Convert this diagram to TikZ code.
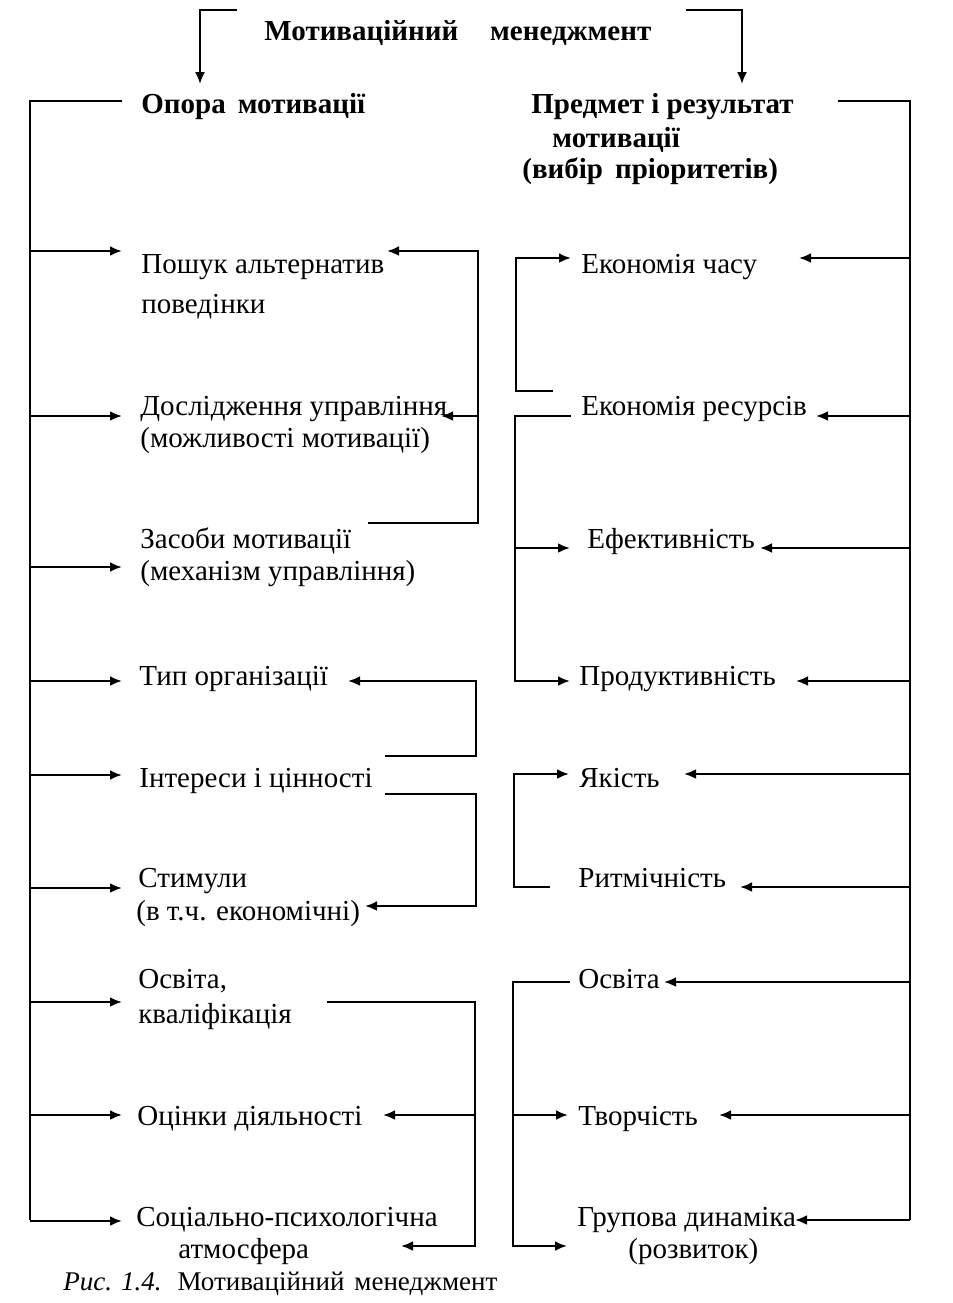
\documentclass[tikz,border=0pt]{standalone}
\usepackage{fontspec}
\setmainfont{Liberation Serif}
\usetikzlibrary{arrows.meta,positioning}
\tikzset{>={Latex[length=6pt,width=5pt]}}
\tikzset{
  item/.style={anchor=base west, inner sep=0pt, font=\fontsize{14.5}{17}\selectfont},
  head/.style={item, font=\fontsize{14.5}{17}\selectfont\bfseries},
  bus/.style={line width=1pt},
  feed/.style={->, line width=1.2pt},
}

\begin{document}
\begin{tikzpicture}[x=0.5pt,y=-0.5pt]
\useasboundingbox (0,0) rectangle (953,1303);
% headings
\node[head] (mm) at (264,40) {Мотиваційний\hspace{16pt}менеджмент};
\node[head] (opora) at (141,113) {Опора\hspace{6pt}мотивації};
\node[head] (pr1) at (531,113) {Предмет і результат};
\node[head] (pr2) at (552,147) {мотивації};
\node[head] (pr3) at (522,178) {(вибір\hspace{6pt}пріоритетів)};

% left column
\node[item] (l1a) at (141,273) {Пошук альтернатив};
\node[item] (l1b) at (141,313) {поведінки};
\node[item] (l2a) at (140,415) {Дослідження управління};
\node[item] (l2b) at (140,447) {(можливості мотивації)};
\node[item] (l3a) at (140,548) {Засоби мотивації};
\node[item] (l3b) at (140,580) {(механізм управління)};
\node[item] (l4) at (139,685) {Тип організації};
\node[item] (l5) at (139,787) {Інтереси і цінності};
\node[item] (l6a) at (138,887) {Стимули};
\node[item] (l6b) at (136,920) {(в т.ч. економічні)};
\node[item] (l7a) at (138,988) {Освіта,};
\node[item] (l7b) at (138,1023) {кваліфікація};
\node[item] (l8) at (137,1125) {Оцінки діяльності};
\node[item] (l9a) at (136,1226) {Соціально-психологічна};
\node[item] (l9b) at (178,1258) {атмосфера};

% right column
\node[item] (r1) at (581,273) {Економія часу};
\node[item] (r2) at (581,415) {Економія ресурсів};
\node[item] (r3) at (587,548) {Ефективність};
\node[item] (r4) at (579,685) {Продуктивність};
\node[item] (r5) at (579,787) {Якість};
\node[item] (r6) at (578,887) {Ритмічність};
\node[item] (r7) at (578,988) {Освіта};
\node[item] (r8) at (578,1125) {Творчість};
\node[item] (r9a) at (577,1226) {Групова динаміка};
\node[item] (r9b) at (628,1258) {(розвиток)};

% caption
\node[item, font=\fontsize{13.5}{16}\selectfont] (cap) at (63,1290)
  {\textit{Рис. 1.4.}\hspace{8pt}Мотиваційний\hspace{5pt}менеджмент};

% top brackets
\coordinate (tl) at (237,10);
\coordinate (tlin) at (200,84);
\coordinate (tr) at (686,10);
\coordinate (trin) at (742,84);
\draw[bus,->] (tl) -| (tlin);
\draw[bus,->] (tr) -| (trin);

% left bus
\coordinate (lbt) at (122,101);
\coordinate (lbb) at (30,1220);
\draw[bus] (lbt) -| (lbb);
\coordinate (la1) at (122,251);
\coordinate (la2) at (122,416);
\coordinate (la3) at (122,567);
\coordinate (la4) at (122,681);
\coordinate (la5) at (122,775);
\coordinate (la6) at (122,888);
\coordinate (la7) at (122,1002);
\coordinate (la8) at (122,1115);
\coordinate (la9) at (122,1221);
\foreach \n in {1,...,9}
  \draw[feed] (lbb |- la\n) -- (la\n);

% right bus
\coordinate (rbt) at (838,101);
\coordinate (rbb) at (910,1220);
\draw[bus] (rbt) -| (rbb);
\coordinate (ra1) at (799,258);
\coordinate (ra2) at (816,416);
\coordinate (ra3) at (760,548);
\coordinate (ra4) at (796,681);
\coordinate (ra5) at (684,774);
\coordinate (ra6) at (740,887);
\coordinate (ra7) at (664,982);
\coordinate (ra8) at (719,1115);
\coordinate (ra9) at (795,1220);
\foreach \n in {1,...,9}
  \draw[feed] (rbb |- ra\n) -- (ra\n);

% left inner brackets
\coordinate (lk1b) at (368,523);
\coordinate (lk1x) at (478,523);
\coordinate (lk1t) at (387,251);
\coordinate (lk1m) at (441,416);
\draw[feed] (lk1b) -- (lk1x) |- (lk1t);
\draw[feed] (lk1x |- lk1m) -- (lk1m);

\coordinate (lk2b) at (385,756);
\coordinate (lk2x) at (476,756);
\coordinate (lk2t) at (348,681);
\draw[feed] (lk2b) -- (lk2x) |- (lk2t);

\coordinate (lk3t) at (385,794);
\coordinate (lk3x) at (476,794);
\coordinate (lk3b) at (365,906);
\draw[feed] (lk3t) -- (lk3x) |- (lk3b);

\coordinate (lk4t) at (327,1002);
\coordinate (lk4x) at (475,1002);
\coordinate (lk4m) at (383,1115);
\coordinate (lk4b) at (401,1246);
\draw[feed] (lk4t) -- (lk4x) |- (lk4b);
\draw[feed] (lk4x |- lk4m) -- (lk4m);

% right inner brackets
\coordinate (rk1b) at (553,391);
\coordinate (rk1x) at (516,391);
\coordinate (rk1t) at (571,258);
\draw[feed] (rk1b) -- (rk1x) |- (rk1t);

\coordinate (rk2t) at (571,416);
\coordinate (rk2x) at (515,416);
\coordinate (rk2m) at (570,548);
\coordinate (rk2b) at (570,681);
\draw[feed] (rk2t) -- (rk2x) |- (rk2b);
\draw[feed] (rk2x |- rk2m) -- (rk2m);

\coordinate (rk3b) at (550,887);
\coordinate (rk3x) at (514,887);
\coordinate (rk3t) at (569,774);
\draw[feed] (rk3b) -- (rk3x) |- (rk3t);

\coordinate (rk4t) at (570,982);
\coordinate (rk4x) at (513,982);
\coordinate (rk4m) at (568,1115);
\coordinate (rk4b) at (567,1246);
\draw[feed] (rk4t) -- (rk4x) |- (rk4b);
\draw[feed] (rk4x |- rk4m) -- (rk4m);
\end{tikzpicture}
\end{document}
